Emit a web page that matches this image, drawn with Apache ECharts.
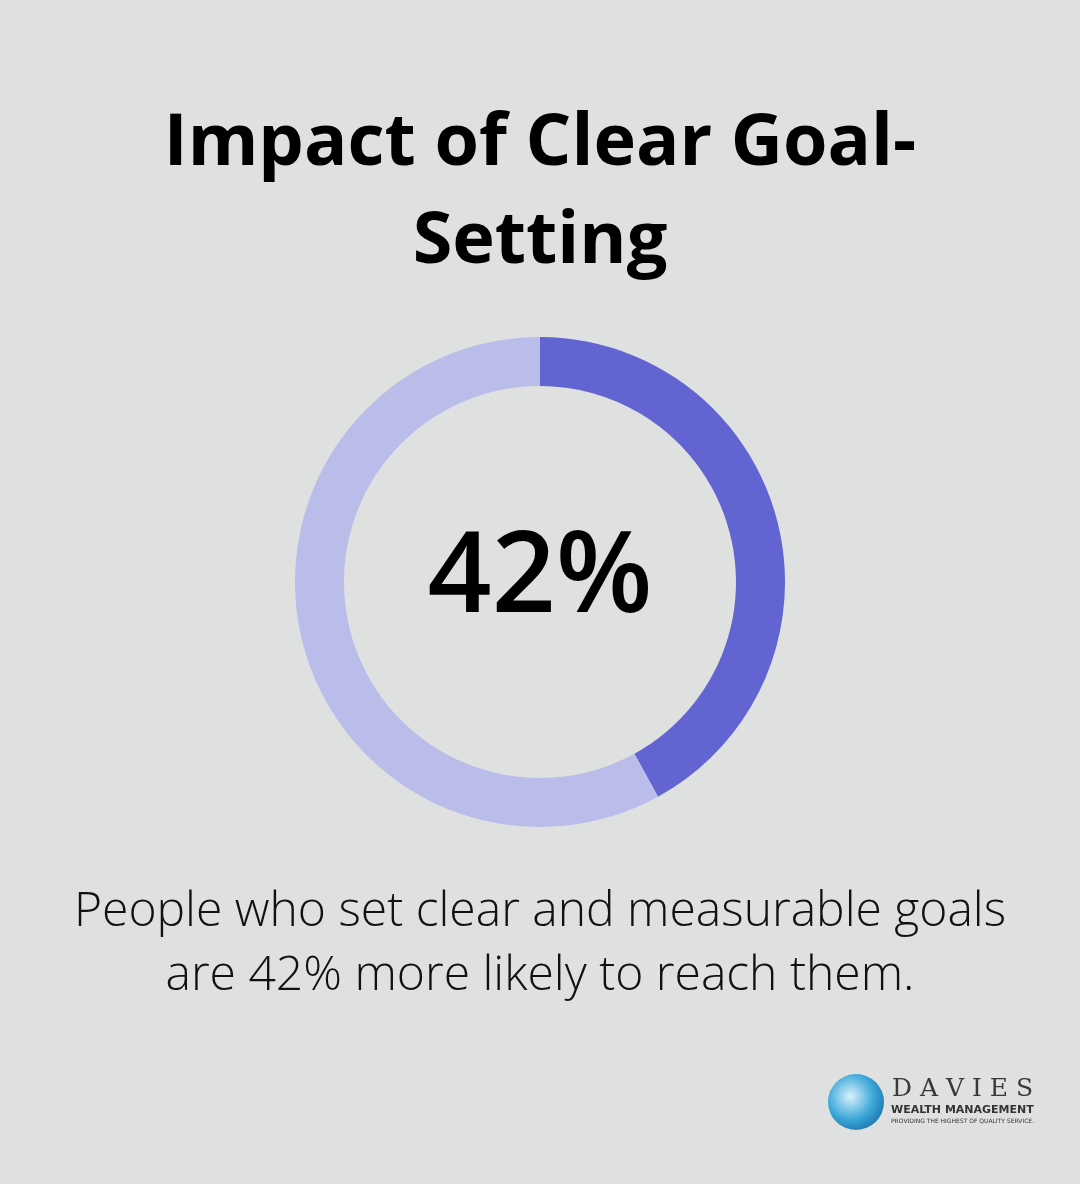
<!DOCTYPE html>
<html>
<head>
<meta charset="utf-8">
<script src="https://cdn.jsdelivr.net/npm/echarts@6/dist/echarts.min.js"></script>
<style>
  html, body { margin: 0; padding: 0; background: #dfe1e0; }
  #chart { width: 1080px; height: 1184px; }
</style>
</head>
<body>
<div id="chart"></div>
<script>
const categories = ['Clear goals', 'Other']
const values = [42, 58]
const centerLabel = '42%'

const chart = echarts.init(document.getElementById('chart'))
chart.setOption({
  backgroundColor: '#dfe1e0',
  title: [
    {
      text: 'Impact of Clear Goal-\nSetting',
      left: 'center',
      top: 90,
      textStyle: { fontFamily: 'Open Sans', fontWeight: 'bold', fontSize: 72, lineHeight: 98, color: '#000' }
    },
    {
      text: 'People who set clear and measurable goals\nare 42% more likely to reach them.',
      left: 'center',
      top: 875,
      textStyle: { fontFamily: 'Open Sans', fontWeight: 300, fontSize: 48, lineHeight: 64, color: '#111' }
    }
  ],
  series: [
    {
      type: 'pie',
      center: [540, 582],
      radius: [196, 245],
      startAngle: 90,
      clockwise: true,
      silent: true,
      label: { show: false },
      data: categories.map((c, i) => ({
        name: c,
        value: values[i],
        itemStyle: { color: i === 0 ? '#6265d1' : '#babcea' }
      }))
    }
  ],
  graphic: [
    {
      type: 'text', left: 'center', top: 524,
      style: { text: centerLabel, font: '600 112px "Open Sans"', fill: '#000' }
    },
    {
      type: 'circle', shape: { cx: 856, cy: 1102, r: 28 },
      style: {
        fill: new echarts.graphic.RadialGradient(0.4, 0.4, 0.7, [
          { offset: 0, color: '#d8f2fb' }, { offset: 0.6, color: '#3aa6d8' }, { offset: 1, color: '#1b6ea5' }
        ])
      }
    },
    {
      type: 'text', left: 892, top: 1077,
      style: { text: 'D A V I E S', font: '25px "DejaVu Serif"', fill: '#3a3a3a' }
    },
    {
      type: 'text', left: 891, top: 1105,
      style: { text: 'WEALTH MANAGEMENT', font: 'bold 11px "DejaVu Sans"', fill: '#333' }
    },
    {
      type: 'text', left: 891, top: 1118,
      style: { text: 'PROVIDING THE HIGHEST OF QUALITY SERVICE.', font: '6px "DejaVu Sans"', fill: '#333' }
    }
  ]
})
</script>
</body>
</html>
